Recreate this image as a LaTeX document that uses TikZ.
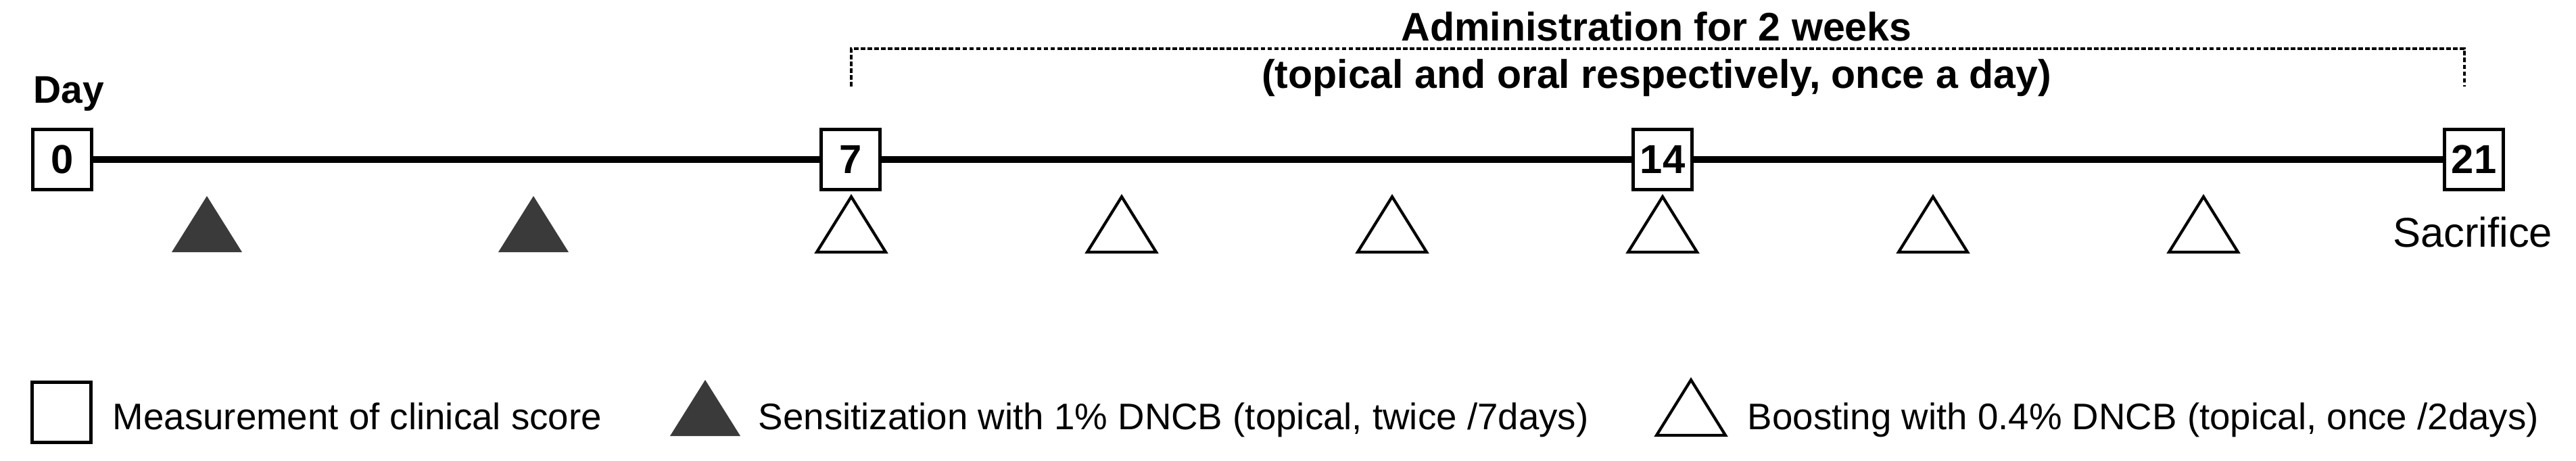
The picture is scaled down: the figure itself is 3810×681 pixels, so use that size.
\documentclass[tikz,border=0pt]{standalone}
\usepackage{fontspec}
\setmainfont{Liberation Sans}
\definecolor{sensgray}{RGB}{58,58,58}
\begin{document}
\begin{tikzpicture}[x=0.01cm,y=-0.01cm,
  daybox/.style={draw, line width=1.3pt, fill=white, minimum width=0.87cm, minimum height=0.89cm, inner sep=0pt, font=\fontsize{17}{20}\selectfont\bfseries},
  timeline/.style={line width=2.8pt},
  bracket/.style={line width=0.9pt, dash pattern=on 1.9pt off 0.95pt},
  toplabel/.style={font=\fontsize{16.8}{20}\selectfont\bfseries, inner sep=0pt, anchor=base},
  legtext/.style={font=\fontsize{15.55}{18}\selectfont, inner sep=0pt, anchor=base west},
  sens/.pic={\fill[sensgray] (0,0) -- (52,83) -- (-52,83) -- cycle;},
  boost/.pic={\draw[line width=1.2pt, fill=white] (0,0) -- (51,82) -- (-51,82) -- cycle;},
]
\useasboundingbox (0,0) rectangle (3810,681);
% day boxes
\node[daybox] (d0) at (92,236) {0};
\node[daybox] (d7) at (1258,236) {7};
\node[daybox] (d14) at (2459,236) {14};
\node[daybox] (d21) at (3659,236) {21};
\draw[timeline] (d0) -- (d7);
\draw[timeline] (d7) -- (d14);
\draw[timeline] (d14) -- (d21);
% labels
\node[font=\fontsize{16.2}{19}\selectfont\bfseries, inner sep=0pt, anchor=base west] (day) at (49,152) {Day};
\node[font=\fontsize{17.5}{20}\selectfont, inner sep=0pt, anchor=base] (sac) at (3657,365) {Sacrifice};
\node[toplabel] (adm1) at (2450,60) {Administration for 2 weeks};
\node[toplabel] (adm2) at (2450,130) {(topical and oral respectively, once a day)};
% bracket
\coordinate (bl) at (1259,128);
\coordinate (blt) at (1259,72);
\coordinate (brt) at (3645,72);
\coordinate (br) at (3645,128);
\draw[bracket] (bl) -- (blt) -- (brt) -- (br);
% triangles
\pic at (306,290) {sens};
\pic at (789,290) {sens};
\pic at (1259,291) {boost};
\pic at (1659,291) {boost};
\pic at (2059,291) {boost};
\pic at (2459,291) {boost};
\pic at (2859,291) {boost};
\pic at (3259,291) {boost};
% legend
\node[daybox] (legbox) at (91,610) {};
\node[legtext] (legm) at (166,635) {Measurement of clinical score};
\pic at (1043,562) {sens};
\node[legtext] (legs) at (1121,635) {Sensitization with 1\% DNCB (topical, twice /7days)};
\pic at (2501,562) {boost};
\node[legtext] (legb) at (2584,635) {Boosting with 0.4\% DNCB (topical, once /2days)};
\end{tikzpicture}
\end{document}
